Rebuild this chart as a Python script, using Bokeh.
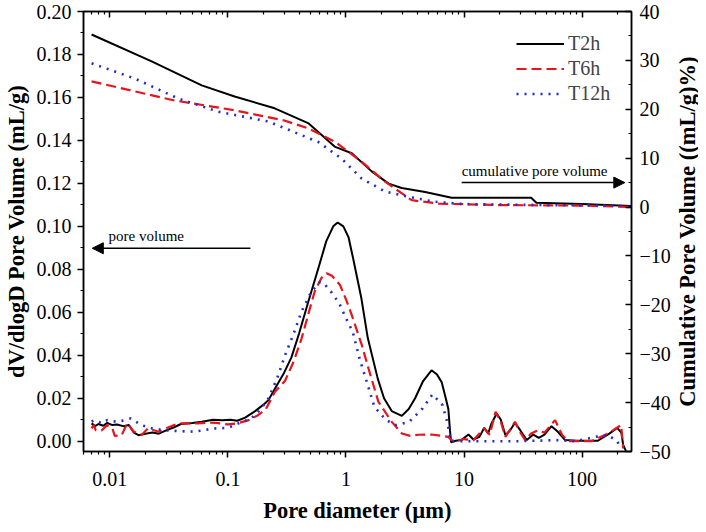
import math
from bokeh.plotting import figure
from bokeh.layouts import row
from bokeh.core.properties import value
from bokeh.models import (Range1d, LinearAxis, LogAxis, FixedTicker, PrintfTickFormatter,
                          Legend, LegendItem, Arrow, NormalHead, Label)
from bokeh.embed import file_html
from bokeh.resources import INLINE

# pore volume curves (dV/dlogD, mL/g)
d_t2 = [0.0070, 0.0075, 0.0080, 0.0088, 0.0095, 0.0105, 0.0115, 0.0130, 0.0145, 0.0160,
        0.0175, 0.0200, 0.0230, 0.0260, 0.0300, 0.0350, 0.0400, 0.0500, 0.0600, 0.0750,
        0.0900, 0.1050, 0.1200, 0.1400, 0.1700, 0.2000, 0.2200, 0.2600, 0.3000, 0.3450,
        0.4000, 0.4800, 0.5800, 0.6800, 0.7800, 0.8500, 0.9500, 1.0500, 1.1500, 1.3500,
        1.5300, 1.8600, 2.1000, 2.4400, 2.9700, 3.4000, 3.8500, 4.5000, 5.3000, 5.9000,
        6.4600, 7.0000, 7.3600, 7.6000, 7.7600, 8.5000, 9.5000, 10.900, 12.000, 13.500,
        14.800, 16.000, 17.000, 18.900, 20.500, 22.400, 24.500, 27.000, 30.000, 34.000,
        38.600, 43.000, 48.000, 55.000, 62.000, 71.800, 90.000, 136.00, 170.00, 198.00,
        215.00, 223.00, 235.00]
v_t2 = [0.0083, 0.0070, 0.0080, 0.0072, 0.0085, 0.0075, 0.0078, 0.0070, 0.0075, 0.0040,
        0.0028, 0.0035, 0.0040, 0.0035, 0.0050, 0.0065, 0.0080, 0.0085, 0.0090, 0.0100,
        0.0098, 0.0100, 0.0095, 0.0110, 0.0140, 0.0170, 0.0190, 0.0260, 0.0320, 0.0390,
        0.0500, 0.0650, 0.0800, 0.0930, 0.1000, 0.1018, 0.1000, 0.0950, 0.0850, 0.0665,
        0.0480, 0.0290, 0.0200, 0.0140, 0.0118, 0.0150, 0.0200, 0.0280, 0.0330, 0.0310,
        0.0275, 0.0200, 0.0150, 0.0050, -0.0005, 0.0002, 0.0005, 0.0031, 0.0008, 0.0020,
        0.0062, 0.0036, 0.0080, 0.0129, 0.0100, 0.0028, 0.0050, 0.0086, 0.0050, 0.0005,
        0.0031, 0.0015, 0.0030, 0.0070, 0.0045, 0.0005, 0.0002, 0.0002, 0.0035, 0.0062,
        0.0040, -0.0019, -0.0045]

d_t6 = [0.0070, 0.0073, 0.0076, 0.0085, 0.0095, 0.0105, 0.0110, 0.0126, 0.0140, 0.0160,
        0.0185, 0.0210, 0.0260, 0.0300, 0.0380, 0.0550, 0.0700, 0.0800, 0.1000, 0.1200,
        0.1500, 0.1800, 0.2100, 0.2500, 0.3040, 0.3600, 0.4210, 0.4900, 0.5430, 0.6200,
        0.6840, 0.7600, 0.8900, 1.0000, 1.1200, 1.3600, 1.5500, 1.8800, 2.4400, 2.9700,
        3.5000, 4.1000, 5.3000, 6.5000, 7.3700, 7.8000, 8.5000, 10.000, 12.000, 14.800,
        16.500, 18.500, 20.500, 22.400, 27.000, 30.000, 33.000, 37.000, 42.000, 48.000,
        59.000, 68.000, 76.700, 120.00, 166.00, 214.00, 223.00]
v_t6 = [0.0060, 0.0075, 0.0050, 0.0050, 0.0075, 0.0060, 0.0025, 0.0028, 0.0083, 0.0044,
        0.0028, 0.0059, 0.0044, 0.0060, 0.0083, 0.0083, 0.0087, 0.0085, 0.0078, 0.0083,
        0.0098, 0.0121, 0.0150, 0.0230, 0.0280, 0.0370, 0.0479, 0.0610, 0.0697, 0.0760,
        0.0782, 0.0770, 0.0727, 0.0660, 0.0587, 0.0448, 0.0339, 0.0184, 0.0090, 0.0036,
        0.0025, 0.0030, 0.0031, 0.0025, 0.0020, 0.0005, 0.0000, 0.0010, 0.0004, 0.0060,
        0.0030, 0.0137, 0.0090, 0.0020, 0.0090, 0.0040, 0.0005, 0.0036, 0.0050, 0.0040,
        0.0098, 0.0028, 0.0000, 0.0000, 0.0036, 0.0075, -0.0034]

d_t12 = [0.0070, 0.0075, 0.0085, 0.0095, 0.0115, 0.0134, 0.0150, 0.0185, 0.0230, 0.0290,
         0.0380, 0.0525, 0.0750, 0.1000, 0.1230, 0.1580, 0.1900, 0.2200, 0.2600, 0.3050,
         0.3600, 0.4200, 0.5100, 0.6000, 0.6500, 0.7600, 0.8800, 1.0000, 1.1400, 1.3000,
         1.4700, 1.7400, 2.1900, 2.6500, 3.4300, 4.4500, 5.4000, 6.5700, 7.2000, 7.7600,
         10.000, 30.000, 60.000, 90.000, 128.00, 166.00, 198.00, 212.00]
v_t12 = [0.0092, 0.0098, 0.0083, 0.0098, 0.0090, 0.0098, 0.0106, 0.0075, 0.0059, 0.0051,
         0.0047, 0.0044, 0.0059, 0.0062, 0.0083, 0.0106, 0.0150, 0.0199, 0.0290, 0.0400,
         0.0500, 0.0603, 0.0697, 0.0740, 0.0735, 0.0690, 0.0640, 0.0572, 0.0510, 0.0386,
         0.0292, 0.0160, 0.0098, 0.0075, 0.0090, 0.0152, 0.0218, 0.0168, 0.0090, 0.0000,
         0.0000, 0.0000, 0.0005, 0.0000, 0.0020, 0.0028, 0.0000, -0.0030]

# cumulative pore volume curves ((mL/g)%)
cd_t2 = [0.0070, 0.0226, 0.060, 0.114, 0.249, 0.483, 0.81, 1.12, 1.65, 2.30, 2.96,
         4.68, 7.85, 37.0, 41.0, 100.0, 260.0]
c_t2 = [35.3, 29.8, 24.9, 22.6, 20.2, 17.1, 12.3, 11.0, 7.3, 4.8, 3.9, 3.1, 1.9, 1.9,
        0.9, 0.6, 0.2]

cd_t6 = [0.0070, 0.0353, 0.114, 0.30, 0.48, 0.80, 1.35, 2.14, 3.6, 6.1, 20.0, 100.0, 260.0]
c_t6 = [25.7, 21.8, 19.8, 17.7, 16.1, 13.4, 9.3, 5.2, 1.4, 0.7, 0.4, 0.3, 0.0]

cd_t12 = [0.0070, 0.0162, 0.038, 0.083, 0.22, 0.583, 0.92, 1.36, 2.14, 3.4, 5.6, 10.0, 50.0,
          200.0, 260.0]
c_t12 = [29.4, 26.3, 22.2, 19.5, 17.5, 13.3, 9.9, 5.8, 3.2, 2.1, 1.1, 0.6, 0.4, 0.3, 0.0]

names = ["T2h", "T6h", "T12h"]
x_ticks = [0.01, 0.1, 1, 10, 100]
x_tick_labels = ["0.01", "0.1", "1", "10", "100"]
left_ticks = [round(i * 0.02, 2) for i in range(11)]
right_ticks = list(range(-50, 41, 10))

FONT = "Liberation Serif"
TITLE_SIZE = "22.5px"

p = figure(width=675, height=528, x_axis_type="log", output_backend="svg",
           toolbar_location=None, x_range=Range1d(0.00598, 262),
           y_range=Range1d(-0.0048, 0.2))
p.extra_y_ranges = {"cum": Range1d(-50, 40)}
p.min_border_left = 81
p.min_border_right = 44
p.min_border_top = 11
p.min_border_bottom = 77
p.grid.visible = False
p.outline_line_color = "black"
p.outline_line_width = 1.5
p.background_fill_color = "white"
p.border_fill_color = "white"

minor_x = [m * 10.0 ** e for e in range(-3, 3) for m in range(2, 10)]
minor_x = [v for v in minor_x if 0.006 <= v <= 262]


def style_axis(ax, tick_in=0, tick_out=6):
    ax.axis_line_color = "black"
    ax.axis_line_width = 1.5
    ax.major_tick_line_color = "black"
    ax.minor_tick_line_color = "black"
    ax.major_tick_line_width = 1.5
    ax.minor_tick_line_width = 1.2
    ax.major_tick_in = tick_in
    ax.major_tick_out = tick_out
    ax.minor_tick_in = tick_in // 2
    ax.minor_tick_out = tick_out // 2
    ax.major_label_text_font = FONT
    ax.major_label_text_font_size = "20px"
    ax.major_label_text_color = "black"
    ax.axis_label_text_font = FONT
    ax.axis_label_text_font_size = TITLE_SIZE
    ax.axis_label_text_font_style = "bold"
    ax.axis_label_text_color = "black"


xa = p.xaxis[0]
style_axis(xa)
xa.ticker = FixedTicker(ticks=x_ticks, minor_ticks=minor_x)
xa.major_label_overrides = dict(zip(x_ticks, x_tick_labels))
xa.axis_label = "Pore diameter (µm)"
xa.major_label_standoff = 14
xa.axis_label_standoff = 9

ya = p.yaxis[0]
style_axis(ya)
ya.ticker = FixedTicker(ticks=left_ticks,
                        minor_ticks=[round(0.01 + i * 0.02, 2) for i in range(10)])
ya.formatter = PrintfTickFormatter(format="%.2f")
ya.axis_label = "dV/dlogD Pore Volume (mL/g)"
ya.major_label_standoff = 6
ya.axis_label_standoff = 5

ra = LinearAxis(y_range_name="cum")
style_axis(ra, tick_in=6, tick_out=0)
ra.ticker = FixedTicker(ticks=right_ticks, minor_ticks=[t + 5 for t in right_ticks[:-1]])
ra.major_label_overrides = {t: str(t).replace("-", "\u2212") for t in right_ticks}
ra.major_label_standoff = 8
p.add_layout(ra, "right")

ta = LogAxis()
style_axis(ta, tick_in=6, tick_out=0)
ta.ticker = FixedTicker(ticks=x_ticks, minor_ticks=minor_x)
ta.major_label_overrides = {t: "" for t in x_ticks}
ta.major_label_standoff = 0
p.add_layout(ta, "above")

styles = [dict(line_color="black", line_width=2),
          dict(line_color="#e8141b", line_width=2.2, line_dash="10 5"),
          dict(line_color="#1f2bd6", line_width=2.6, line_dash="2 6")]

pv = [(d_t2, v_t2), (d_t6, v_t6), (d_t12, v_t12)]
cv = [(cd_t2, c_t2), (cd_t6, c_t6), (cd_t12, c_t12)]
items = []
for name, st, (dx, dv), (cx, cc) in zip(names, styles, pv, cv):
    r1 = p.line(dx, dv, **st)
    p.line(cx, cc, y_range_name="cum", **st)
    items.append(LegendItem(label=name, renderers=[r1]))

legend = Legend(items=items, location=(429, 341), border_line_alpha=0,
                background_fill_alpha=0, label_text_font=FONT,
                label_text_font_size="20px", glyph_width=48, glyph_height=25,
                label_standoff=4, spacing=0, padding=4, margin=0)
p.add_layout(legend)

p.add_layout(Arrow(end=NormalHead(size=11, fill_color="black", line_color="black"),
                   x_start=0.155, y_start=0.0898, x_end=0.0071, y_end=0.0898,
                   line_color="black", line_width=1.5))
p.add_layout(Label(x=0.00975, y=0.0918, text="pore volume", text_font=FONT,
                   text_font_size="15px", text_color="black"))
p.add_layout(Arrow(end=NormalHead(size=11, fill_color="black", line_color="black"),
                   x_start=9.55, y_start=5.0, x_end=230, y_end=5.0, y_range_name="cum",
                   line_color="black", line_width=1.5))
p.add_layout(Label(x=9.55, y=5.8, y_range_name="cum", text="cumulative pore volume",
                   text_font=FONT, text_font_size="15px", text_color="black"))

# narrow strip holding the right axis title, reading bottom to top
t = figure(width=23, height=528, x_range=Range1d(0, 1), y_range=Range1d(-50, 40),
           output_backend="svg", toolbar_location=None,
           x_axis_location=None, y_axis_location=None)
t.min_border_left = 0
t.min_border_right = 0
t.min_border_top = 11
t.min_border_bottom = 77
t.grid.visible = False
t.outline_line_color = None
t.text(x=[0.5], y=[-5], text=["Cumulative Pore Volume ((mL/g)%)"], angle=math.pi / 2,
       text_align="center", text_baseline="middle", text_font=value(FONT),
       text_font_size=TITLE_SIZE, text_font_style="bold", text_color="black")

open("out.html", "w").write(file_html(row(p, t), INLINE))
